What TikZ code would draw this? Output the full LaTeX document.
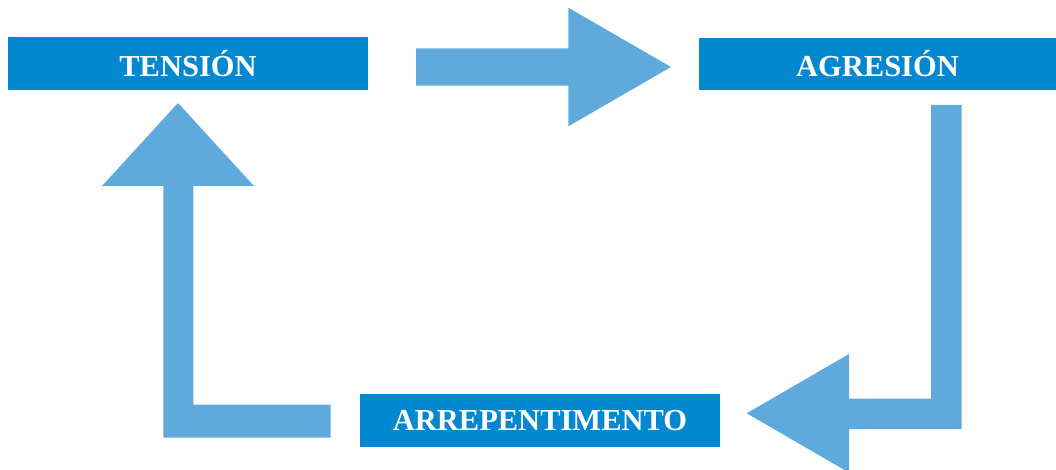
\documentclass[tikz,border=0pt]{standalone}
\usepackage{fontspec}
\setmainfont{Liberation Serif}
\usetikzlibrary{positioning}
\definecolor{boxblue}{HTML}{0288D1}
\definecolor{arrowblue}{HTML}{5FAADD}

\begin{document}
\begin{tikzpicture}[x=1pt,y=-1pt,
  stage/.style={rectangle,fill=boxblue,text=white,
  	minimum height=52.7pt,
  	inner sep=0pt,
  	anchor=center,
  	font=\fontsize{30.5}{36}\selectfont\bfseries},
  bigarrow/.style={fill=arrowblue,draw=none}]
 \useasboundingbox (0,0) rectangle (1056,470);
 \node[stage,minimum width=360pt] (tension) at (188,63.4) {TENSIÓN};
 \node[stage,minimum width=357pt] (agresion) at (877.5,64) {AGRESIÓN};
 \node[stage,minimum width=360pt] (arrep) at (540,420.3) {ARREPENTIMENTO};

 \fill[bigarrow] (416,48.3) -- (568.3,48.3) -- (568.3,7.7) -- (671,67)
 	-- (568.3,126.3) -- (568.3,85.7) -- (416,85.7) -- cycle;
 \fill[bigarrow] (931,105) -- (961.7,105) -- (961.7,429) -- (849,429)
 	-- (849,472.6) -- (746.7,413.3) -- (849,354) -- (849,398.7)
 	-- (931,398.7) -- cycle;
 \fill[bigarrow] (330.7,404.7) -- (330.7,437.7) -- (163.3,437.7)
 	-- (163.3,186) -- (102,186) -- (178,103) -- (254,186)
 	-- (193.3,186) -- (193.3,404.7) -- cycle;
\end{tikzpicture}
\end{document}
